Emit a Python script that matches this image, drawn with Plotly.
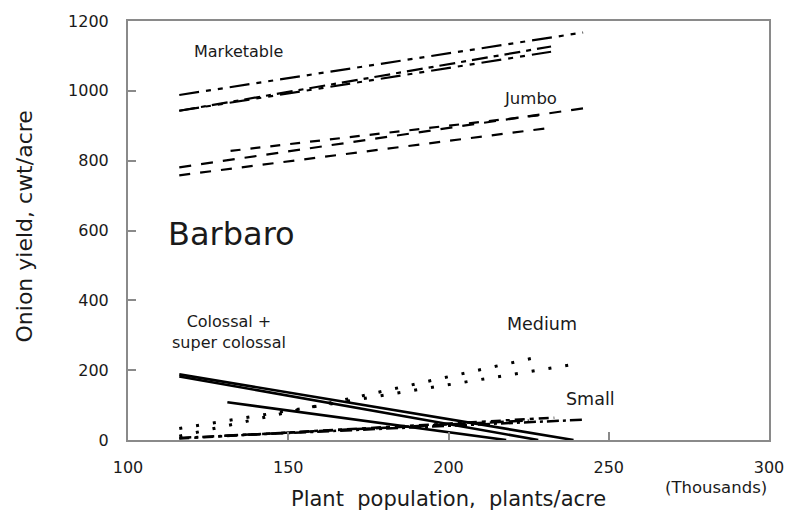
import plotly.graph_objects as go

# ---- data (plant population in thousands, yield in cwt/acre) ----
mk1_pop = [116, 242]; mk1_yld = [988, 1167]
mk2_pop = [116, 232]; mk2_yld = [943, 1127]
mk3_pop = [116, 232]; mk3_yld = [943, 1112]

jb1_pop = [116, 242]; jb1_yld = [781, 950]
jb2_pop = [116, 230]; jb2_yld = [758, 892]
jb3_pop = [132, 230]; jb3_yld = [828, 932]

co1_pop = [116, 239]; co1_yld = [188, 0]
co2_pop = [116, 228]; co2_yld = [182, 0]
co3_pop = [131, 218]; co3_yld = [108, 0]

md1_pop = [116, 229]; md1_yld = [11, 240]
md2_pop = [116, 240]; md2_yld = [33, 218]

sm1_pop = [116, 242]; sm1_yld = [6, 58]
sm2_pop = [116, 233]; sm2_yld = [4, 64]
sm3_pop = [130, 225]; sm3_yld = [12, 56]

x_ticks = [100, 150, 200, 250, 300]
y_ticks = [0, 200, 400, 600, 800, 1000, 1200]

FONT = "DejaVu Sans"
TXT = "#1a1a1a"
AX = "#8a8a8a"

fig = go.Figure()

def add(xs, ys, dash, width=2):
    fig.add_trace(go.Scatter(x=xs, y=ys, mode="lines",
                             line=dict(color="black", width=width, dash=dash),
                             showlegend=False, hoverinfo="skip"))

dd = "20px,7px,5px,7px,5px,7px"
add(mk1_pop, mk1_yld, dd, 2.2)
add(mk2_pop, mk2_yld, "16px,6px,5px,6px", 2.2)
add(mk3_pop, mk3_yld, dd, 2.2)

add(jb1_pop, jb1_yld, "12px,10px", 2.2)
add(jb2_pop, jb2_yld, "11px,10px", 2.2)
add(jb3_pop, jb3_yld, "10px,10px", 2.2)

add(co1_pop, co1_yld, "solid", 2.6)
add(co2_pop, co2_yld, "solid", 2.6)
add(co3_pop, co3_yld, "solid", 2.6)

add(md1_pop, md1_yld, "3px,14px", 3)
add(md2_pop, md2_yld, "3px,14px", 3)

add(sm1_pop, sm1_yld, "12px,4px,3px,4px", 2.5)
add(sm2_pop, sm2_yld, "10px,5px,4px,5px", 2.5)
add(sm3_pop, sm3_yld, "14px,5px", 2.5)

def note(text, x, y, size, xref="x", yref="y", angle=0, xanchor="center"):
    fig.add_annotation(text=text, x=x, y=y, xref=xref, yref=yref,
                       showarrow=False, textangle=angle,
                       font=dict(family=FONT, size=size, color=TXT),
                       xanchor=xanchor, yanchor="middle")

note("Marketable", 134.4, 1112, 16)
note("Jumbo", 225.5, 978, 16.5)
note("Barbaro", 132.4, 590, 32)
note("Colossal +<br>super colossal", 131.6, 310, 16)
note("Medium", 229.3, 333, 17.5)
note("Small", 244.2, 118, 17.5)
note("(Thousands)", 1.0, -0.114, 16.5, xref="paper", yref="paper", xanchor="right")
note("Plant\u00a0 population,\u00a0 plants/acre", 0.5, -0.142, 21, xref="paper", yref="paper")
note("Onion yield, cwt/acre", -0.162, 0.51, 22, xref="paper", yref="paper", angle=-90)

fig.update_layout(
    width=796, height=516,
    margin=dict(l=128, r=17, t=15, b=76),
    paper_bgcolor="white", plot_bgcolor="white",
    font=dict(family=FONT, size=16, color=TXT),
    xaxis=dict(range=[100, 300], tickvals=x_ticks, showgrid=False, zeroline=False,
               showline=True, linecolor=AX, linewidth=2, mirror=True,
               ticks="inside", ticklen=8, tickcolor=AX, tickwidth=1.5,
               ticklabelstandoff=12, tickfont=dict(family=FONT, size=16, color=TXT)),
    yaxis=dict(range=[0, 1200], tickvals=y_ticks, showgrid=False, zeroline=False,
               showline=True, linecolor=AX, linewidth=2, mirror=True,
               ticks="inside", ticklen=8, tickcolor=AX, tickwidth=1.5,
               ticklabelstandoff=14, tickfont=dict(family=FONT, size=16, color=TXT)),
)

fig.write_html("out.html")
